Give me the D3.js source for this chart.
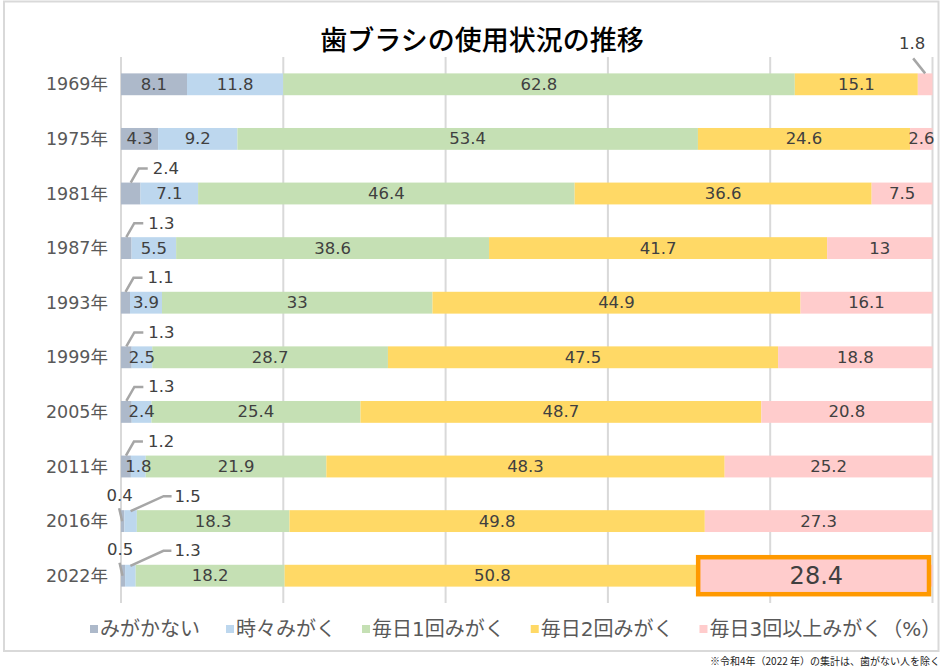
<!DOCTYPE html>
<html><head><meta charset="utf-8">
<script src="https://cdn.jsdelivr.net/npm/d3@7"></script>
<style>
html,body{margin:0;padding:0;background:#fff;}
svg{display:block;font-family:"DejaVu Sans","Noto Sans CJK JP",sans-serif;}
</style></head>
<body><svg id="c" width="943" height="670"></svg>
<script>
const title = "歯ブラシの使用状況の推移";
const years = ["1969年","1975年","1981年","1987年","1993年","1999年","2005年","2011年","2016年","2022年"];
const seriesKeys = ["never","sometimes","once","twice","thrice"];
const seriesNames = ["みがかない","時々みがく","毎日1回みがく","毎日2回みがく","毎日3回以上みがく（%）"];
const never     = [8.1, 4.3, 2.4, 1.3, 1.1, 1.3, 1.3, 1.2, 0.4, 0.5];
const sometimes = [11.8, 9.2, 7.1, 5.5, 3.9, 2.5, 2.4, 1.8, 1.5, 1.3];
const once      = [62.8, 53.4, 46.4, 38.6, 33, 28.7, 25.4, 21.9, 18.3, 18.2];
const twice     = [15.1, 24.6, 36.6, 41.7, 44.9, 47.5, 48.7, 48.3, 49.8, 50.8];
const thrice    = [1.8, 2.6, 7.5, 13, 16.1, 18.8, 20.8, 25.2, 27.3, 28.4];
const xTicks = [0, 20, 40, 60, 80, 100];
const footnote = "※令和4年（2022 年）の集計は、歯がない人を除く";
// labels drawn outside the bar with leader lines: [year, series, style]
const outsideLabels = [
  ["1969年","thrice","upLeft"],
  ["1981年","never","upRight"],["1987年","never","upRight"],["1993年","never","upRight"],
  ["1999年","never","upRight"],["2005年","never","upRight"],["2011年","never","upRight"],
  ["2016年","never","up"],["2016年","sometimes","upRightLong"],
  ["2022年","never","up"],["2022年","sometimes","upRightLong"]
];
const highlight = ["2022年","thrice"];

const colors = {never:"#adb9ca",sometimes:"#bdd7ee",once:"#c5e0b4",twice:"#ffd966",thrice:"#ffcccc"};
const seriesVals = {never, sometimes, once, twice, thrice};
const rows = years.map((y,i)=>{const r={year:y}; seriesKeys.forEach(k=>r[k]=seriesVals[k][i]); return r;});

const svg = d3.select("#c");
// outer frame
svg.append("rect").attr("x",4).attr("y",1.5).attr("width",934.5).attr("height",649.5)
  .attr("fill","#fff").attr("stroke","#d9d9d9").attr("stroke-width",2);

const x = d3.scaleLinear().domain([0,1]).range([121,932.5]);
const y = d3.scaleBand().domain(years).range([57,603]).paddingInner(0.6).paddingOuter(0.3);

// gridlines
svg.append("g").selectAll("line").data(xTicks).join("line")
  .attr("x1",d=>x(d/100)).attr("x2",d=>x(d/100)).attr("y1",57).attr("y2",603)
  .attr("stroke","#d9d9d9").attr("stroke-width",2);

// title
svg.append("text").attr("x",482).attr("y",38).attr("text-anchor","middle").attr("dominant-baseline","central")
  .attr("font-family","Noto Sans CJK JP").attr("font-size",27).attr("font-weight",500).attr("fill","#000").text(title);

const stack = d3.stack().keys(seriesKeys).offset(d3.stackOffsetExpand);
const stacked = stack(rows);

const g = svg.append("g");
stacked.forEach(s=>{
  g.append("g").attr("fill",colors[s.key]).selectAll("rect").data(s).join("rect")
    .attr("x",d=>x(d[0])).attr("width",d=>x(d[1])-x(d[0]))
    .attr("y",d=>y(d.data.year)).attr("height",y.bandwidth());
});

// y axis labels
svg.append("g").selectAll("text").data(years).join("text")
  .attr("x",108).attr("y",d=>y(d)+y.bandwidth()/2).attr("text-anchor","end").attr("dominant-baseline","central")
  .attr("font-size",17.5).attr("fill","#595959").text(d=>d);

const isOutside = (yr,k)=>outsideLabels.find(o=>o[0]===yr&&o[1]===k);
const isHi = (yr,k)=>highlight[0]===yr&&highlight[1]===k;

// highlight box
stacked.forEach(s=>{
  s.forEach(d=>{
    if(isHi(d.data.year,s.key)){
      const cy = y(d.data.year)+y.bandwidth()/2;
      svg.append("rect").attr("x",x(d[0])-2).attr("y",cy-18.5).attr("width",x(1)-x(d[0])-1.5).attr("height",37)
        .attr("fill",colors[s.key]).attr("stroke","#ff9900").attr("stroke-width",4.5);
    }
  });
});

// labels
const lab = svg.append("g").attr("fill","#404040");
const lead = svg.append("g").attr("fill","none").attr("stroke","#a6a6a6").attr("stroke-width",2.5);
const fs = 16.5;
stacked.forEach(s=>{
  s.forEach(d=>{
    const yr=d.data.year, v=d.data[s.key];
    const cx=(x(d[0])+x(d[1]))/2, top=y(yr), cy=top+y.bandwidth()/2;
    const o=isOutside(yr,s.key);
    if(!o){
      lab.append("text").attr("x",cx).attr("y",cy).attr("text-anchor","middle").attr("dominant-baseline","central")
        .attr("font-size",isHi(yr,s.key)?24:fs).text(v);
      return;
    }
    const st=o[2];
    if(st==="upRight"){
      lead.append("polyline").attr("points",[[cx,top],[cx+8,top-14],[cx+17,top-14]].join(" "));
      lab.append("text").attr("x",cx+22).attr("y",top-14).attr("dominant-baseline","central").attr("font-size",fs).text(v);
    } else if(st==="upRightLong"){
      lead.append("polyline").attr("points",[[cx,top+1],[cx+33,top-14],[cx+41,top-14]].join(" "));
      lab.append("text").attr("x",cx+44).attr("y",top-14).attr("dominant-baseline","central").attr("font-size",fs).text(v);
    } else if(st==="upLeft"){
      lead.append("line").attr("x1",cx).attr("y1",top).attr("x2",cx-12).attr("y2",top-15);
      lab.append("text").attr("x",cx-13).attr("y",top-30).attr("text-anchor","middle").attr("dominant-baseline","central").attr("font-size",fs).text(v);
    } else if(st==="up"){
      lead.append("line").attr("x1",cx-3.5).attr("y1",top-2).attr("x2",cx-0.5).attr("y2",top+11);
      lab.append("text").attr("x",cx-3).attr("y",top-15).attr("text-anchor","middle").attr("dominant-baseline","central").attr("font-size",fs).text(v);
    }
  });
});

// legend
const leg = svg.append("g");
let lx = 90;
seriesKeys.forEach((k,i)=>{
  leg.append("rect").attr("x",lx).attr("y",625).attr("width",8).attr("height",8).attr("fill",colors[k]);
  const t = leg.append("text").attr("x",lx+10).attr("y",629).attr("dominant-baseline","central")
    .attr("font-size",20).attr("fill","#595959").text(seriesNames[i]);
  lx += 10 + t.node().getComputedTextLength() + 26;
});

// footnote
svg.append("text").attr("x",940).attr("y",660).attr("text-anchor","end").attr("dominant-baseline","central")
  .attr("font-family","Noto Sans CJK JP").attr("font-size",10).attr("fill","#222").text(footnote);
</script></body></html>
